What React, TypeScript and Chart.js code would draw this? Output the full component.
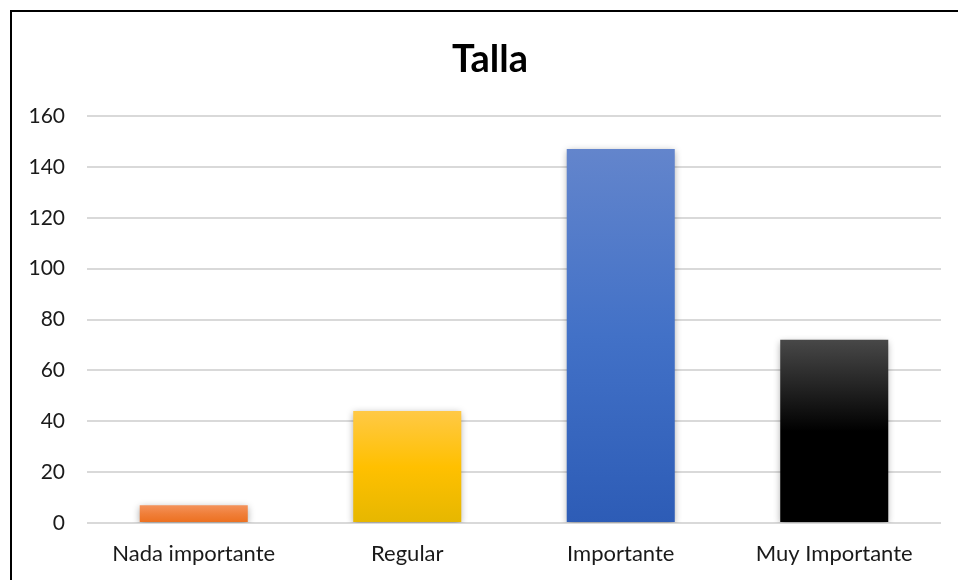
import React, { useEffect, useRef } from "react";
import { Chart, registerables } from "chart.js";

Chart.register(...registerables);

const categories = ["Nada importante", "Regular", "Importante", "Muy Importante"];
const values = [7, 44, 147, 72];
const chartTitle = "Talla";
const yMin = 0;
const yMax = 160;
const yStep = 20;

const gradientStops: string[][] = [
  ["#F4935C", "#F07E38", "#EC6F1E"],
  ["#FFC946", "#FFC000", "#E6B700"],
  ["#6385CC", "#4271C7", "#2D5CB6"],
  ["#484848", "#000000", "#000000"],
];

const FONT = "Lato, 'Open Sans', 'Noto Sans', sans-serif";

export default function App() {
  const ref = useRef<HTMLCanvasElement | null>(null);

  useEffect(() => {
    document.body.style.margin = "0";
    const canvas = ref.current;
    if (!canvas) return;

    const framePlugin = {
      id: "frame",
      beforeDraw(chart: any) {
        const ctx = chart.ctx;
        ctx.save();
        ctx.fillStyle = "#ffffff";
        ctx.fillRect(0, 0, chart.width, chart.height);
        ctx.fillStyle = "#000000";
        ctx.fillRect(10, 10, 2, chart.height - 10);
        ctx.fillRect(10, 10, chart.width - 10, 2);
        ctx.restore();
      },
      afterDraw(chart: any) {
        const ctx = chart.ctx;
        ctx.save();
        ctx.fillStyle = "#000000";
        ctx.font = `bold 38px ${FONT}`;
        ctx.textAlign = "center";
        ctx.textBaseline = "alphabetic";
        ctx.fillText(chartTitle, 490, 72);
        ctx.restore();
      },
    };

    const shadowPlugin = {
      id: "barShadow",
      beforeDatasetsDraw(chart: any) {
        const ctx = chart.ctx;
        ctx.save();
        ctx.shadowColor = "rgba(0,0,0,0.35)";
        ctx.shadowBlur = 7;
        ctx.shadowOffsetX = 0;
        ctx.shadowOffsetY = 2;
      },
      afterDatasetsDraw(chart: any) {
        chart.ctx.restore();
      },
    };

    const chart = new Chart(canvas, {
      type: "bar",
      data: {
        labels: categories,
        datasets: [
          {
            data: values,
            backgroundColor: (c: any) => {
              const chartObj = c.chart;
              const stops = gradientStops[c.dataIndex % gradientStops.length];
              const ys = chartObj.scales && chartObj.scales.y;
              if (!chartObj.chartArea || !ys || c.raw == null) return stops[1];
              const top = ys.getPixelForValue(c.raw);
              const base = ys.getPixelForValue(0);
              if (!isFinite(top) || !isFinite(base) || top === base) return stops[1];
              const g = chartObj.ctx.createLinearGradient(0, top, 0, base);
              g.addColorStop(0, stops[0]);
              g.addColorStop(0.5, stops[1]);
              g.addColorStop(1, stops[2]);
              return g;
            },
            borderWidth: 0,
            barPercentage: 0.506,
            categoryPercentage: 1,
          },
        ],
      },
      options: {
        animation: false,
        responsive: false,
        maintainAspectRatio: false,
        layout: { padding: { left: 0, right: 17, top: 116, bottom: 0 } },
        plugins: {
          legend: { display: false },
          title: { display: false },
          tooltip: { enabled: false },
        },
        scales: {
          x: {
            grid: { display: false, drawTicks: false },
            border: { display: false },
            ticks: {
              color: "#1a1a1a",
              font: { family: FONT, size: 22 },
              padding: 18,
              maxRotation: 0,
            },
            afterFit(axis: any) {
              axis.height = 57;
            },
          },
          y: {
            min: yMin,
            max: yMax,
            grid: { color: "#d9d9d9", lineWidth: 2, drawTicks: false },
            border: { display: false },
            ticks: {
              stepSize: yStep,
              color: "#1a1a1a",
              font: { family: FONT, size: 21 },
              padding: 22,
            },
            afterFit(axis: any) {
              axis.width = 87;
            },
          },
        },
      },
      plugins: [framePlugin, shadowPlugin],
    });

    return () => chart.destroy();
  }, []);

  return (
    <div style={{ width: 958, height: 580 }}>
      <canvas ref={ref} width={958} height={580} style={{ display: "block" }} />
    </div>
  );
}
